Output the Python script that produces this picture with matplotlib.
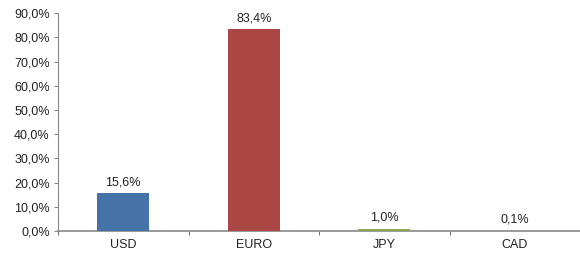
import numpy as np
import matplotlib
matplotlib.use("Agg")
from matplotlib import pyplot as plt

categories = ["USD", "EURO", "JPY", "CAD"]
values = [15.6, 83.4, 1.0, 0.1]
colors = ["#4572A7", "#AA4643", "#89A54E", "#71588F"]
yticks = np.arange(0, 91, 10)

plt.rcParams['font.family'] = ['Liberation Sans', 'DejaVu Sans']
plt.rcParams['font.size'] = 9

fig = plt.figure(figsize=(5.8, 2.57), dpi=100)
ax = fig.add_axes([0.1, 0.101, 0.9, 0.848])

x = np.arange(len(categories))
ax.bar(x, values, width=0.4, color=colors, zorder=3)
for xi, v in zip(x, values):
    ax.text(xi, v + 2.0, ("%.1f%%" % v).replace(".", ","),
            ha="center", va="bottom", color="#222222")

ax.set_xlim(-0.5, 3.47)
ax.set_ylim(0, 90)
ax.set_yticks(yticks)
ax.set_yticklabels([("%.1f%%" % t).replace(".", ",") for t in yticks])
ax.set_xticks(x)
ax.set_xticklabels(categories)
ax.set_xticks(np.arange(-0.5, 3.6, 1), minor=True)
ax.tick_params(axis="x", which="major", length=0, pad=6)
ax.tick_params(axis="x", which="minor", length=3, color="#555555", direction="out")
ax.tick_params(axis="y", length=3, color="#888888", direction="out", pad=3)
ax.tick_params(labelcolor="#222222")

for s in ["top", "right"]:
    ax.spines[s].set_visible(False)
ax.spines["left"].set_color("#888888")
ax.spines["bottom"].set_color("#888888")
ax.spines["bottom"].set_linewidth(1.2)

fig.savefig("out.png", dpi=100)
